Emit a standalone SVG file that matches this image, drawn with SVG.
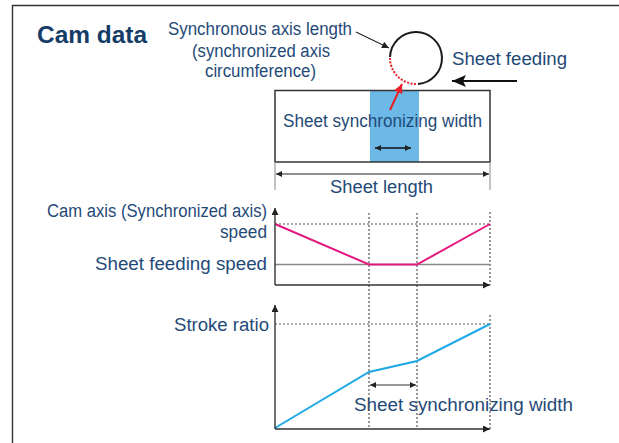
<svg xmlns="http://www.w3.org/2000/svg" width="619" height="443" viewBox="0 0 619 443">
<style>
text{font-family:"Liberation Sans",Arial,sans-serif;fill:#1f4a78;font-size:18px}
.title{font-weight:bold;font-size:24px;fill:#143c66}
.dot{stroke:#555;stroke-width:1.2;stroke-dasharray:2,2;fill:none}
.ax{stroke:#333;stroke-width:1.4;fill:none}
.ext{stroke:#999;stroke-width:1.2}
</style>
<defs>
<marker id="ah" viewBox="0 0 10 10" refX="10" refY="5" markerWidth="8" markerHeight="7" markerUnits="userSpaceOnUse" orient="auto-start-reverse"><path d="M0,0 L10,5 L0,10 z" fill="#222"/></marker>
<marker id="ahs" viewBox="0 0 10 10" refX="10" refY="5" markerWidth="7" markerHeight="6" markerUnits="userSpaceOnUse" orient="auto-start-reverse"><path d="M0,0 L10,5 L0,10 z" fill="#222"/></marker>
<marker id="ahbig" viewBox="0 0 14 12" refX="14" refY="6" markerWidth="14" markerHeight="12" markerUnits="userSpaceOnUse" orient="auto"><path d="M0,0 L14,6 L0,12 L3,6 z" fill="#111"/></marker>
<marker id="ahred" viewBox="0 0 10 10" refX="10" refY="5" markerWidth="10" markerHeight="9" markerUnits="userSpaceOnUse" orient="auto"><path d="M0,0 L10,5 L0,10 z" fill="#e8202a"/></marker>
</defs>
<rect width="619" height="443" fill="#fff"/>
<g id="frame"><path d="M12.5,443 V5.5 H619" fill="none" stroke="#333" stroke-width="1.4"/></g>
<g id="title"><text class="title" x="37" y="43" textLength="110" lengthAdjust="spacingAndGlyphs">Cam data</text></g>

<g id="sheet">
<rect x="275" y="90.5" width="215" height="71.5" fill="#fff"/>
<rect x="370" y="91" width="49" height="71" fill="#6cb8e6"/>
<rect x="275" y="90.5" width="215" height="71.5" fill="none" stroke="#333" stroke-width="1.5"/>
<text x="283" y="127" textLength="199" lengthAdjust="spacingAndGlyphs">Sheet synchronizing width</text>
</g>

<g id="roller">
<path d="M418,84 A26,26 0 1 0 390,57" fill="none" stroke="#1a1a1a" stroke-width="2"/>
<path d="M390,58 A26,26 0 0 0 416,84" fill="none" stroke="#e8202a" stroke-width="2" stroke-dasharray="2,1.5"/>
</g>

<g id="labels">
<text x="168" y="35" textLength="184" lengthAdjust="spacingAndGlyphs">Synchronous axis length</text>
<text x="192" y="57" textLength="138" lengthAdjust="spacingAndGlyphs">(synchronized axis</text>
<text x="205" y="77" textLength="111" lengthAdjust="spacingAndGlyphs">circumference)</text>
<text x="452" y="65" textLength="115" lengthAdjust="spacingAndGlyphs">Sheet feeding</text>
<text x="330" y="193" textLength="103" lengthAdjust="spacingAndGlyphs">Sheet length</text>
<text x="47" y="217" textLength="220" lengthAdjust="spacingAndGlyphs">Cam axis (Synchronized axis)</text>
<text x="220" y="238" textLength="47" lengthAdjust="spacingAndGlyphs">speed</text>
<text x="95" y="270" textLength="172" lengthAdjust="spacingAndGlyphs">Sheet feeding speed</text>
<text x="174" y="331" textLength="95" lengthAdjust="spacingAndGlyphs">Stroke ratio</text>
<text x="354" y="411" textLength="219" lengthAdjust="spacingAndGlyphs">Sheet synchronizing width</text>
</g>

<g id="connectors">
<line x1="356" y1="32" x2="389" y2="48" stroke="#222" stroke-width="1.1" marker-end="url(#ah)"/>
<line x1="390" y1="110" x2="402" y2="84" stroke="#e8202a" stroke-width="2" marker-end="url(#ahred)"/>
<line x1="517" y1="81" x2="452" y2="81" stroke="#111" stroke-width="2.2" marker-end="url(#ahbig)"/>
<line x1="375" y1="148" x2="411" y2="148" stroke="#111" stroke-width="1.5" marker-start="url(#ahs)" marker-end="url(#ahs)"/>
<line class="ext" x1="275" y1="162" x2="275" y2="190"/>
<line class="ext" x1="490" y1="162" x2="490" y2="190"/>
<line x1="276" y1="174" x2="489" y2="174" stroke="#222" stroke-width="1.1" marker-start="url(#ahs)" marker-end="url(#ahs)"/>
</g>

<g id="chart-speed">
<line class="dot" x1="369" y1="213" x2="369" y2="429"/>
<line class="dot" x1="417" y1="213" x2="417" y2="429"/>
<line class="dot" x1="490" y1="212" x2="490" y2="285"/>
<line class="dot" x1="275" y1="224" x2="490" y2="224"/>
<line x1="275" y1="264.5" x2="490" y2="264.5" stroke="#888" stroke-width="1.5"/>
<polyline points="275,224 369,264.5 417,264.5 490,224" fill="none" stroke="#e4177f" stroke-width="2"/>
<line class="ax" x1="275" y1="285" x2="275" y2="208" marker-end="url(#ah)"/>
<line class="ax" x1="275" y1="285" x2="490" y2="285" marker-end="url(#ah)"/>
</g>

<g id="chart-stroke">
<line class="dot" x1="490" y1="315" x2="490" y2="429"/>
<line class="dot" x1="275" y1="324" x2="490" y2="324"/>
<polyline points="275,428 369,372 417,361 490,324" fill="none" stroke="#1ea9e6" stroke-width="2"/>
<line x1="370" y1="385" x2="416" y2="385" stroke="#333" stroke-width="1.1" marker-start="url(#ahs)" marker-end="url(#ahs)"/>
<line class="ax" x1="275" y1="429" x2="275" y2="305" marker-end="url(#ah)"/>
<line class="ax" x1="275" y1="429" x2="490" y2="429" marker-end="url(#ah)"/>
</g>
</svg>
